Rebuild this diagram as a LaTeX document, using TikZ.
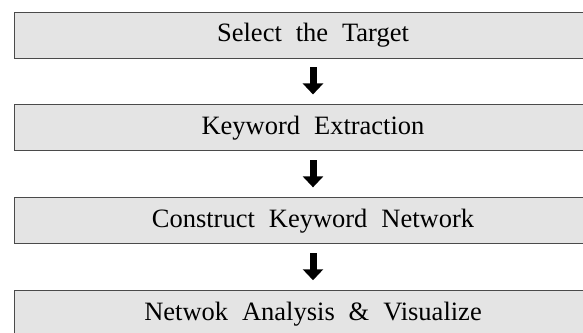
\documentclass[tikz,border=0pt]{standalone}
\usepackage{fontspec}
\setmainfont{Liberation Serif}
\newfontfamily\boxfont[WordSpace=2.1]{Liberation Serif}
\usepackage{tikz}
\usetikzlibrary{arrows.meta, positioning}
\definecolor{boxgray}{HTML}{E4E4E4}
\definecolor{edgegray}{HTML}{4A4A4A}

\begin{document}
\begin{tikzpicture}[x=1pt, y=1pt,
    stepbox/.style={draw=edgegray, line width=0.9pt, fill=boxgray,
      minimum width=598pt, minimum height=46pt, inner sep=0pt,
      font=\boxfont\fontsize{26.5}{30}\selectfont},
    flow/.style={line width=7pt, -{Triangle[width=20pt, length=11pt]},
      shorten <=9pt, shorten >=10pt}]
  \useasboundingbox (0,0) rectangle (583,332);
  \clip (0,0) rectangle (583,332);
  % four stages, top to bottom
  \node[stepbox] (target) at (313,297) {Select the Target};
  \node[stepbox, below=46pt of target] (extract) {Keyword Extraction};
  \node[stepbox, below=46pt of extract] (network) {Construct Keyword Network};
  \node[stepbox, below=46pt of network] (analysis) {Netwok Analysis \& Visualize};
  % arrows between stages
  \draw[flow] (target) -- (extract);
  \draw[flow] (extract) -- (network);
  \draw[flow] (network) -- (analysis);
\end{tikzpicture}
\end{document}
